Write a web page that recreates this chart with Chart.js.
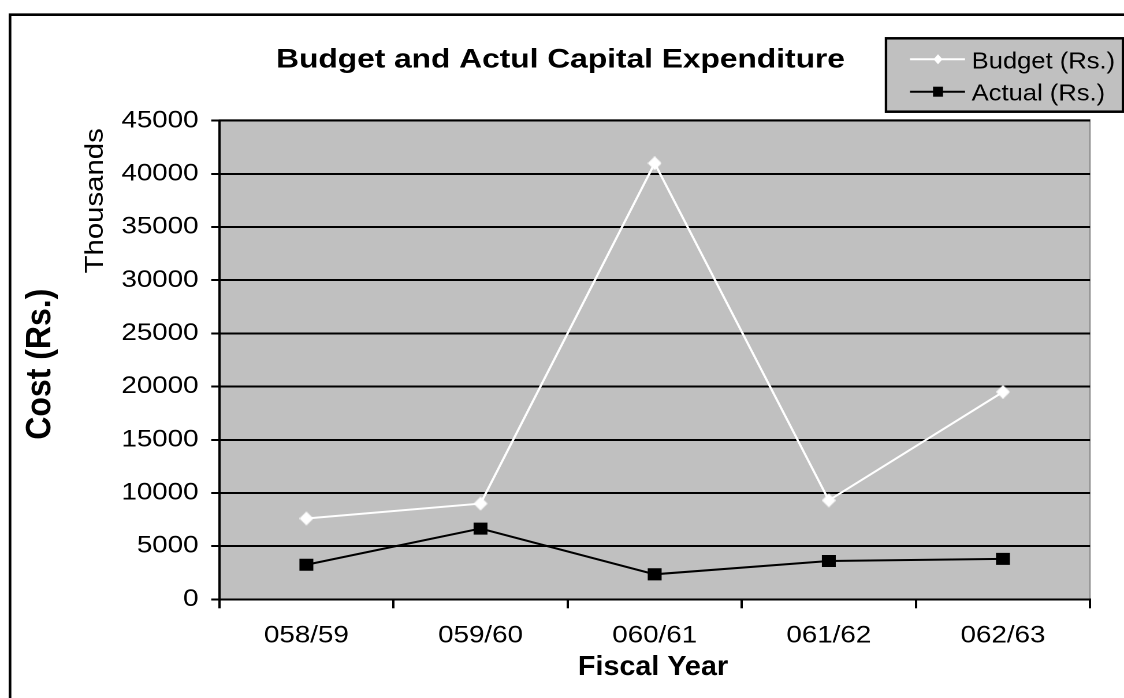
<!DOCTYPE html>
<html>
<head>
<meta charset="utf-8">
<title>Budget and Actul Capital Expenditure</title>
<script src="https://cdn.jsdelivr.net/npm/chart.js@4"></script>
<style>
  html, body { margin: 0; padding: 0; background: #fff; }
  #chart { display: block; }
</style>
</head>
<body>
<canvas id="chart" width="973" height="698" style="width:1124px;height:698px"></canvas>
<script>
const fiscalYears = ['058/59', '059/60', '060/61', '061/62', '062/63'];
const budgetRs = [7600, 9000, 41000, 9300, 19500];
const actualRs = [3250, 6650, 2350, 3600, 3800];
const yMax = 45000;
const yStep = 5000;

// canvas is laid out narrower than it is shown, so everything comes out a bit wide
const SHOW_W = 1124;
const DRAW_W = 973;
const SX = SHOW_W / DRAW_W;
const FONT = '"Liberation Sans", Arial, Helvetica, sans-serif';

Chart.defaults.font.family = FONT;
Chart.defaults.color = '#000';

function diamondMarker(w, h, color) {
    const c = document.createElement('canvas');
    c.width = w; c.height = h;
    const g = c.getContext('2d');
    g.fillStyle = color;
    g.beginPath();
    g.moveTo(w / 2, 0); g.lineTo(w, h / 2); g.lineTo(w / 2, h); g.lineTo(0, h / 2);
    g.closePath();
    g.fill();
    return c;
}

// draws text in screen pixels (undoes the horizontal widening), with its own stretch
function label(ctx, str, x, y, font, o) {
    o = o || {};
    ctx.save();
    ctx.scale(1 / SX, 1);
    ctx.translate(x, y);
    if (o.rot) ctx.rotate(o.rot);
    ctx.scale(o.kx || 1, o.ky || 1);
    ctx.font = font;
    ctx.fillStyle = '#000';
    ctx.textAlign = o.align || 'center';
    ctx.textBaseline = 'alphabetic';
    ctx.fillText(str, 0, 0);
    ctx.restore();
}

const framePlugin = {
    id: 'frame',
    beforeDraw(chart) {
        const { ctx, chartArea: a } = chart;
        ctx.save();
        ctx.fillStyle = '#fff';
        ctx.fillRect(0, 0, chart.width, chart.height);
        ctx.fillStyle = '#c0c0c0';
        ctx.fillRect(a.left, a.top, a.right - a.left, a.bottom - a.top);
        ctx.strokeStyle = '#808080';
        ctx.lineWidth = 1;
        ctx.strokeRect(a.left, a.top - 1, a.right - a.left, a.bottom - a.top + 1);
        ctx.restore();
    },
    afterDraw(chart) {
        const ctx = chart.ctx;

        // outer chart border (left and top show)
        ctx.save();
        ctx.scale(1 / SX, 1);
        ctx.strokeStyle = '#000';
        ctx.lineWidth = 2.7;
        ctx.beginPath();
        ctx.moveTo(10, 720); ctx.lineTo(10, 14.7); ctx.lineTo(1140, 14.7);
        ctx.stroke();
        ctx.restore();

        label(ctx, 'Budget and Actul Capital Expenditure', 560.5, 67.3, 'bold 26.5px ' + FONT, { kx: 1.196 });
        label(ctx, 'Fiscal Year', 653, 675, 'bold 28px ' + FONT, { kx: 1.026 });
        label(ctx, 'Cost (Rs.)', 50, 364.2, 'bold 32px ' + FONT, { rot: -Math.PI / 2, ky: 1.1 });
        label(ctx, 'Thousands', 102.7, 200.8, '26px ' + FONT, { rot: -Math.PI / 2, kx: 1.128 });

        // legend box
        ctx.save();
        ctx.scale(1 / SX, 1);
        ctx.fillStyle = '#c0c0c0';
        ctx.fillRect(886, 38.3, 237, 73.4);
        ctx.strokeStyle = '#000';
        ctx.lineWidth = 2.5;
        ctx.strokeRect(886, 38.3, 237, 73.4);
        const rows = [{ y: 59.3, base: 68.3 }, { y: 91.7, base: 100.7 }];
        chart.data.datasets.forEach((ds, i) => {
            const r = rows[i];
            ctx.strokeStyle = ds.borderColor;
            ctx.lineWidth = 2;
            ctx.beginPath();
            ctx.moveTo(910, r.y); ctx.lineTo(965, r.y);
            ctx.stroke();
            ctx.fillStyle = ds.borderColor;
            if (ds.pointStyle === 'rect') {
                ctx.fillRect(938 - 5, r.y - 5, 10, 10);
            } else {
                ctx.beginPath();
                ctx.moveTo(938, r.y - 5); ctx.lineTo(942.5, r.y); ctx.lineTo(938, r.y + 5); ctx.lineTo(933.5, r.y);
                ctx.closePath();
                ctx.fill();
            }
        });
        ctx.restore();
        chart.data.datasets.forEach((ds, i) => {
            label(ctx, ds.label, 971.7, rows[i].base, '23.5px ' + FONT, { kx: 1.087, align: 'left' });
        });
    }
};

new Chart(document.getElementById('chart'), {
    type: 'line',
    data: {
        labels: fiscalYears,
        datasets: [
            {
                label: 'Budget (Rs.)',
                data: budgetRs,
                borderColor: '#ffffff',
                backgroundColor: '#ffffff',
                borderWidth: 2,
                pointStyle: diamondMarker(12, 14, '#ffffff'),
                pointRadius: 7,
                tension: 0
            },
            {
                label: 'Actual (Rs.)',
                data: actualRs,
                borderColor: '#000000',
                backgroundColor: '#000000',
                borderWidth: 2,
                pointStyle: 'rect',
                pointRadius: 8.5,
                pointBorderWidth: 0,
                tension: 0
            }
        ]
    },
    options: {
        responsive: false,
        devicePixelRatio: 2,
        animation: false,
        layout: { padding: { left: 0, top: 120.7, right: 29.4, bottom: 0 } },
        plugins: {
            legend: { display: false },
            title: { display: false },
            tooltip: { enabled: false }
        },
        scales: {
            x: {
                offset: true,
                grid: { offset: true, drawOnChartArea: false, color: '#000', lineWidth: 2, tickLength: 9 },
                border: { color: '#000', width: 2 },
                ticks: { color: '#000', font: { size: 24 }, padding: 13, maxRotation: 0, autoSkip: false },
                afterFit: s => { s.height = 98.7; }
            },
            y: {
                min: 0,
                max: yMax,
                grid: { color: '#000', lineWidth: 2, tickLength: 7 },
                border: { color: '#000', width: 2 },
                ticks: { stepSize: yStep, color: '#000', font: { size: 24 }, padding: 11, callback: v => String(v) },
                afterFit: s => { s.width = 189.84; }
            }
        }
    },
    plugins: [framePlugin]
});
</script>
</body>
</html>
